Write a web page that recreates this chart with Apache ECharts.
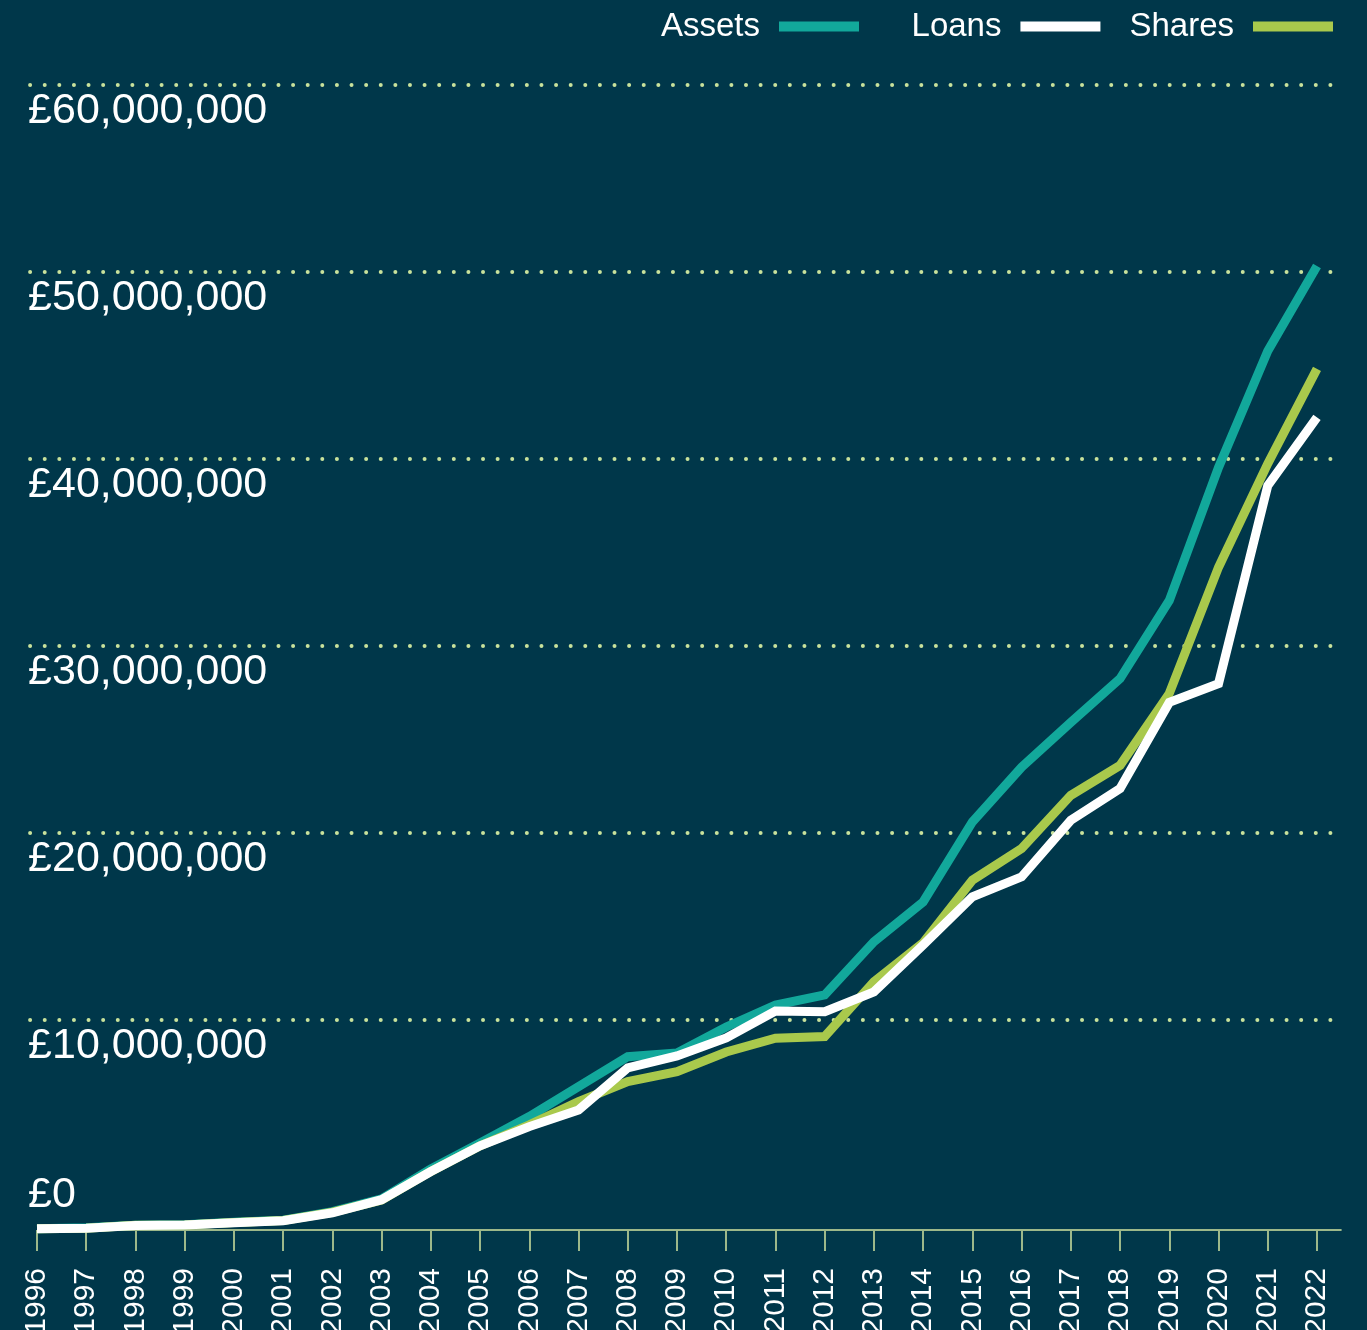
<!DOCTYPE html>
<html>
<head>
<meta charset="utf-8">
<script src="https://cdn.jsdelivr.net/npm/echarts@6/dist/echarts.min.js"></script>
<style>
html,body{margin:0;padding:0;background:#00374a;}
#chart{width:1367px;height:1330px;}
</style>
</head>
<body>
<div id="chart"></div>
<script>
// Values in £ millions
const years = [1996,1997,1998,1999,2000,2001,2002,2003,2004,2005,2006,2007,2008,2009,2010,2011,2012,2013,2014,2015,2016,2017,2018,2019,2020,2021,2022];
const assets = [-1.20,-1.15,-1.01,-0.99,-0.85,-0.75,-0.29,0.40,2.00,3.39,4.80,6.40,8.00,8.20,9.59,10.76,11.30,14.15,16.28,20.56,23.48,25.88,28.22,32.40,39.52,45.75,50.29];
const loans  = [-1.20,-1.18,-1.03,-1.00,-0.88,-0.77,-0.35,0.35,1.86,3.23,4.26,5.15,7.40,8.04,9.00,10.44,10.41,11.47,13.97,16.55,17.62,20.65,22.34,26.95,27.95,38.54,42.19];
const shares = [-1.20,-1.17,-1.02,-1.00,-0.87,-0.76,-0.32,0.33,1.86,3.23,4.35,5.60,6.67,7.20,8.25,8.99,9.08,12.01,14.09,17.44,19.13,21.98,23.58,27.43,34.18,39.72,44.79];
const gridValues = [0,10,20,30,40,50,60];
const tickLabels = ['£0','£10,000,000','£20,000,000','£30,000,000','£40,000,000','£50,000,000','£60,000,000'];

const X_MIN = 1995.86, X_MAX = 2022.5, Y_MIN = -1.27, Y_MAX = 60;
const GRID_END = 2022.33;
const GRID_COLOR = '#c9e29c';
const AXIS_COLOR = '#9db88a';
const FONT = '"Liberation Sans", Arial, Helvetica, sans-serif';

const pairs = arr => years.map((y, i) => [y, arr[i]]);

const markData = gridValues.map((v, i) => {
  const isZero = v === 0;
  return [
    {
      coord: [X_MIN, v],
      lineStyle: isZero ? {color: 'rgba(0,0,0,0)'} : {},
      label: {
        show: true,
        formatter: tickLabels[i],
        position: isZero ? 'insideStartTop' : 'insideStartBottom',
        distance: isZero ? [-2, -10] : [-2, 5],
        color: '#ffffff',
        fontSize: 43,
        fontFamily: FONT
      }
    },
    {coord: [GRID_END, v]}
  ];
});
// x axis baseline (from first year to the right end of the plot)
markData.push([
  {coord: [years[0], Y_MIN], lineStyle: {color: AXIS_COLOR, width: 2, type: 'solid', cap: 'butt'}, label: {show: false}},
  {coord: [X_MAX, Y_MIN]}
]);

const legendBase = {
  top: 5,
  align: 'right',
  icon: 'rect',
  itemWidth: 80,
  itemHeight: 10,
  itemGap: 29,
  textStyle: {color: '#ffffff', fontSize: 33, fontFamily: FONT, padding: [0, 14, 0, 0]}
};

const chart = echarts.init(document.getElementById('chart'), null, {renderer: 'canvas'});
chart.setOption({
  backgroundColor: '#00374a',
  animation: false,
  legend: [
    Object.assign({}, legendBase, {data: ['Assets'], right: 503}),
    Object.assign({}, legendBase, {data: ['Loans', 'Shares'], right: 29})
  ],
  grid: {left: 30.1, right: 25.4, top: 84.5, bottom: 100, containLabel: false, outerBoundsMode: 'none'},
  xAxis: {
    type: 'value',
    min: X_MIN,
    max: X_MAX,
    splitLine: {show: false},
    axisLine: {show: false, onZero: false},
    axisTick: {show: true, customValues: years, length: 21, lineStyle: {color: AXIS_COLOR, width: 2}},
    axisLabel: {
      customValues: years,
      rotate: 90,
      margin: 38,
      color: '#ffffff',
      fontSize: 30,
      fontFamily: FONT,
      formatter: v => String(v)
    }
  },
  yAxis: {
    type: 'value',
    min: Y_MIN,
    max: Y_MAX,
    splitLine: {show: false},
    axisLine: {show: false},
    axisTick: {show: false},
    axisLabel: {show: false}
  },
  series: [
    {
      name: 'grid',
      type: 'line',
      data: pairs(assets),
      clip: false,
      silent: true,
      z: 0,
      showSymbol: false,
      symbol: 'none',
      lineStyle: {opacity: 0},
      markLine: {
        silent: true,
        symbol: ['none', 'none'],
        z: 0,
        lineStyle: {color: GRID_COLOR, width: 4, type: [0.01, 14.6], cap: 'round'},
        data: markData
      }
    },
    {
      name: 'Assets', type: 'line', data: pairs(assets),
      showSymbol: false, symbol: 'none', z: 3,
      lineStyle: {color: '#12a89b', width: 9, join: 'miter'},
      itemStyle: {color: '#12a89b'}
    },
    {
      name: 'Shares', type: 'line', data: pairs(shares),
      showSymbol: false, symbol: 'none', z: 4,
      lineStyle: {color: '#a9c94c', width: 9, join: 'miter'},
      itemStyle: {color: '#a9c94c'}
    },
    {
      name: 'Loans', type: 'line', data: pairs(loans),
      showSymbol: false, symbol: 'none', z: 5,
      lineStyle: {color: '#ffffff', width: 9, join: 'miter'},
      itemStyle: {color: '#ffffff'}
    }
  ]
});
</script>
</body>
</html>
